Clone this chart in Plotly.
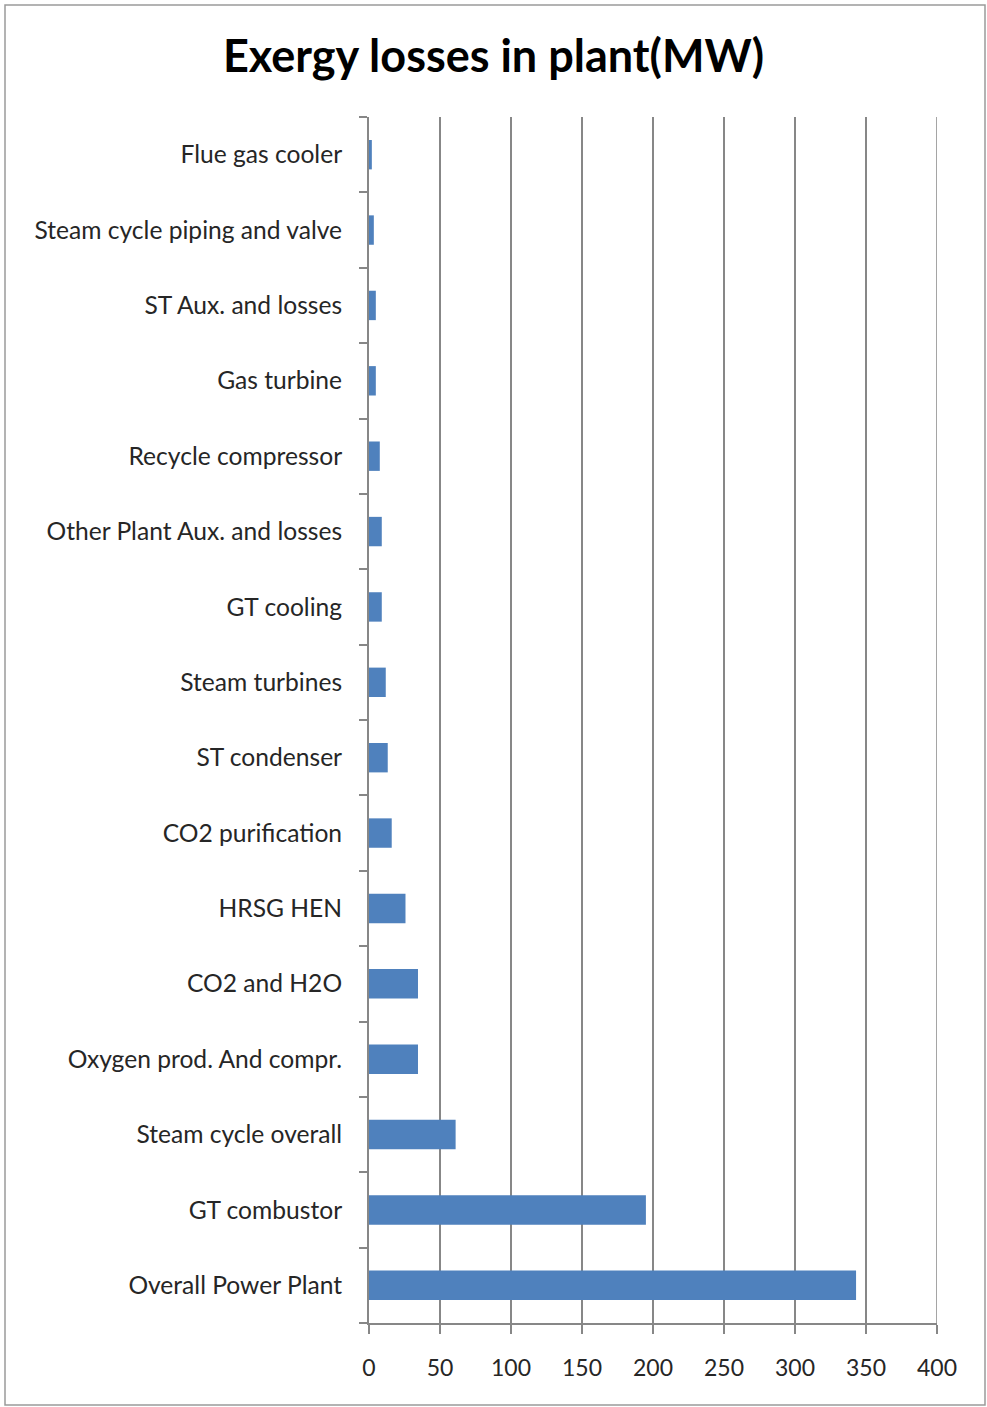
import plotly.graph_objects as go

categories = [
    "Overall Power Plant", "GT combustor", "Steam cycle overall",
    "Oxygen prod. And compr.", "CO2 and H2O", "HRSG HEN", "CO2 purification",
    "ST condenser", "Steam turbines", "GT cooling", "Other Plant Aux. and losses",
    "Recycle compressor", "Gas turbine", "ST Aux. and losses",
    "Steam cycle piping and valve", "Flue gas cooler",
]
values = [343, 195, 61, 34.5, 34.5, 25.7, 16, 13.2, 11.8, 9, 9, 7.6, 4.8, 4.8, 3.4, 2]
x_ticks = [0, 50, 100, 150, 200, 250, 300, 350, 400]

FONT = "Lato"
GRID = "#878787"
TXT = "#262626"

fig = go.Figure(go.Bar(
    y=categories, x=values, orientation="h",
    marker=dict(color="#4F81BD", line=dict(width=0)),
))

W, H = 987, 1407
L, R, T, B = 369, 50, 117, 84
pw, ph = W - L - R, H - T - B

fig.update_layout(
    width=W, height=H,
    margin=dict(l=L, r=R, t=T, b=B),
    paper_bgcolor="white", plot_bgcolor="white",
    bargap=0.61,
    showlegend=False,
    title=dict(text="<b>Exergy losses in plant(MW)</b>", x=0.5, xanchor="center",
               y=1 - 56 / H, yanchor="middle",
               font=dict(family=FONT, size=45, color="black")),
    font=dict(family=FONT, size=24, color=TXT),
    xaxis=dict(range=[0, 400], tickvals=x_ticks, showgrid=True, gridcolor=GRID, gridwidth=1.5,
               showline=True, linecolor=GRID, linewidth=2, ticks="outside", ticklen=9,
               tickcolor=GRID, tickwidth=1.5, ticklabelstandoff=14, zeroline=False,
               tickfont=dict(family=FONT, size=23, color=TXT)),
    yaxis=dict(categoryorder="array", categoryarray=categories, showgrid=False,
               showline=True, linecolor=GRID, linewidth=2, ticks="outside", ticklen=8,
               tickcolor=GRID, tickwidth=1.5, tickson="boundaries",
               ticklabelstandoff=20,
               tickfont=dict(family=FONT, size=24.6, color=TXT)),
    shapes=[
        dict(type="rect", xref="paper", yref="paper",
             x0=(5 - L) / pw, x1=(985 - L) / pw,
             y0=(H - B - 1405) / ph, y1=(H - B - 5) / ph,
             line=dict(color="#9a9a9a", width=1.5), fillcolor="rgba(0,0,0,0)",
             layer="below"),
        dict(type="line", xref="x", yref="paper", x0=x_ticks[-1], x1=x_ticks[-1],
             y0=0, y1=1, line=dict(color=GRID, width=1.5), layer="below"),
    ],
)

fig.write_html("out.html")
